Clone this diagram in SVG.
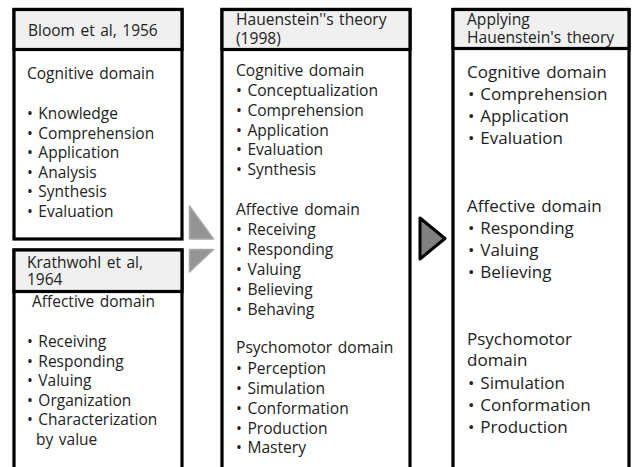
<svg xmlns="http://www.w3.org/2000/svg" width="635" height="467" viewBox="0 0 635 467">
<style>
.box{fill:#ffffff;stroke:#000000;stroke-width:3.2}
.hdr{fill:#f0f0f0;stroke:#000000;stroke-width:3.2}
text{font-family:"Open Sans","Noto Sans","DejaVu Sans",sans-serif;fill:#222222;word-spacing:1.5px}
.t1{font-size:15.5px}
.t3{font-size:15.6px}
.t4{font-size:17px}
.tri1{fill:#949494;stroke:#a8a8a8;stroke-width:1.5;stroke-linejoin:round}
.tri2{fill:#808080;stroke:#000000;stroke-width:3;stroke-linejoin:round}
</style>
<rect x="0" y="0" width="635" height="467" fill="#ffffff"/>
<g id="bloom">
<rect class="box" x="14" y="9.5" width="168" height="229.5"/>
<rect class="hdr" x="14" y="9.5" width="168" height="40"/>
<text class="t1" x="28" y="36">Bloom et al, 1956</text>
<text class="t1" x="27" y="79">Cognitive domain</text>
<text class="t1" x="27"><tspan x="27" y="119">• Knowledge</tspan><tspan x="27" y="138.5">• Comprehension</tspan><tspan x="27" y="158">• Application</tspan><tspan x="27" y="177.5">• Analysis</tspan><tspan x="27" y="197">• Synthesis</tspan><tspan x="27" y="216.5">• Evaluation</tspan></text>
</g>
<g id="krathwohl">
<rect class="box" x="14" y="250" width="168" height="240"/>
<rect class="hdr" x="14" y="250" width="168" height="41.5"/>
<text class="t1" x="27" y="268">Krathwohl et al,</text>
<text class="t1" x="27" y="285">1964</text>
<text class="t1" x="32" y="307">Affective domain</text>
<text class="t1"><tspan x="27" y="347">• Receiving</tspan><tspan x="27" y="366.5">• Responding</tspan><tspan x="27" y="386">• Valuing</tspan><tspan x="27" y="405.5">• Organization</tspan><tspan x="27" y="425">• Characterization</tspan><tspan x="36" y="444.5">by value</tspan></text>
</g>
<g id="hauenstein">
<rect class="box" x="222" y="9.5" width="188" height="480"/>
<rect class="hdr" x="222" y="9.5" width="188" height="40"/>
<text class="t3" x="236" y="25">Hauenstein''s theory</text>
<text class="t3" x="236" y="44"> (1998)</text>
<text class="t3" x="236" y="76">Cognitive domain</text>
<text class="t3"><tspan x="236" y="95.5">• Conceptualization</tspan><tspan x="236" y="115.5">• Comprehension</tspan><tspan x="236" y="135.5">• Application</tspan><tspan x="236" y="155">• Evaluation</tspan><tspan x="236" y="175">• Synthesis</tspan></text>
<text class="t3" x="236" y="215">Affective domain</text>
<text class="t3"><tspan x="236" y="234.5">• Receiving</tspan><tspan x="236" y="254.5">• Responding</tspan><tspan x="236" y="274.5">• Valuing</tspan><tspan x="236" y="294.5">• Believing</tspan><tspan x="236" y="314.5">• Behaving</tspan></text>
<text class="t3" x="236" y="353">Psychomotor domain</text>
<text class="t3"><tspan x="236" y="373.5">• Perception</tspan><tspan x="236" y="393.5">• Simulation</tspan><tspan x="236" y="413.5">• Conformation</tspan><tspan x="236" y="433.5">• Production</tspan><tspan x="236" y="453">• Mastery</tspan></text>
</g>
<g id="applying">
<rect class="box" x="453" y="9.5" width="176" height="480"/>
<rect class="hdr" x="453" y="9.5" width="176" height="39"/>
<text class="t3" x="467" y="25">Applying</text>
<text class="t3" x="467" y="43">Hauenstein's theory</text>
<text class="t4" x="467" y="78">Cognitive domain</text>
<text class="t4"><tspan x="468" y="100">• Comprehension</tspan><tspan x="468" y="122">• Application</tspan><tspan x="468" y="143.5">• Evaluation</tspan></text>
<text class="t4" x="467" y="212">Affective domain</text>
<text class="t4"><tspan x="468" y="234">• Responding</tspan><tspan x="468" y="256">• Valuing</tspan><tspan x="468" y="277.5">• Believing</tspan></text>
<text class="t4" x="467" y="345">Psychomotor</text>
<text class="t4" x="467" y="366">domain</text>
<text class="t4"><tspan x="468" y="389">• Simulation</tspan><tspan x="468" y="411">• Conformation</tspan><tspan x="468" y="432.5">• Production</tspan></text>
</g>
<g id="connectors">
<polygon class="tri1" points="189.5,206 189.5,239 213.5,239"/>
<polygon class="tri1" points="189.5,249.5 213.5,249.5 189.5,272"/>
<polygon class="tri2" points="420,218 420,259 445,238.5"/>
</g>
</svg>
